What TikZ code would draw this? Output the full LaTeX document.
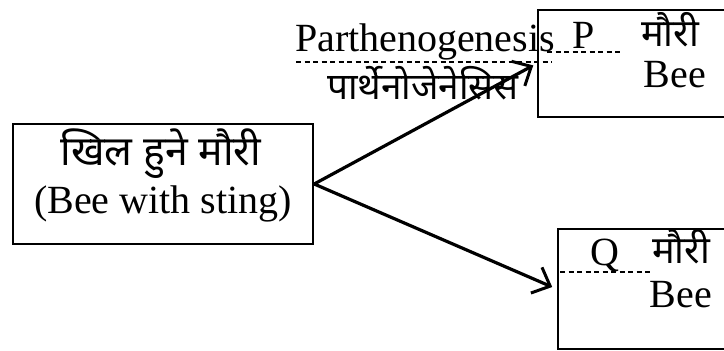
\documentclass[tikz,border=0pt]{standalone}
\usepackage{fontspec}
\setmainfont{Liberation Serif}
\newfontfamily\devfont[Script=Devanagari]{Noto Sans}
\usetikzlibrary{arrows.meta, positioning}

\begin{document}
\begin{tikzpicture}[x=1pt, y=-1pt,
  box/.style={draw, line width=2.4pt, inner sep=0pt},
  link/.style={-{Straight Barb[length=15pt, width=28pt, line width=3pt]}, line width=3.2pt},
  guide/.style={line width=1.6pt, dash pattern=on 5pt off 3.5pt},
  lat/.style={font=\fontsize{40}{44}\selectfont, inner sep=0pt},
  dev/.style={font=\devfont\fontsize{38}{42}\selectfont, inner sep=0pt}]
  \useasboundingbox (0,0) rectangle (724,351);
  % bee with sting
  \node[box, minimum width=300pt, minimum height=120pt] (stinger) at (163,184) {};
  \node[dev, font=\devfont\fontsize{41}{44}\selectfont] (khil) at (161,154) {खिल हुने मौरी};
  \node[lat, anchor=base] (stingtxt) at (163,213) {(Bee with sting)};
  % the two offspring
  \node[box, minimum width=200pt, minimum height=107pt] (pbox) at (638,63.5) {};
  \node[box, minimum width=200pt, minimum height=120pt] (qbox) at (658,289) {};
  \node[lat, anchor=base] (pletter) at (584,48) {P};
  \node[dev] (pmauri) at (670,30) {मौरी};
  \node[lat, anchor=base] (pbee) at (675,87) {Bee};
  \node[lat, anchor=base] (qletter) at (605,265) {Q};
  \node[dev] (qmauri) at (681,247) {मौरी};
  \node[lat, anchor=base] (qbee) at (681,307) {Bee};
  % label on the upper arrow
  \node[lat, anchor=base] (parth) at (425,51) {Parthenogenesis};
  \node[dev, font=\devfont\fontsize{37}{40}\selectfont] (parthdev) at (423,83) {पार्थेनोजेनेसिस};
  \draw[guide] (296,62) -- (552,62);
  \draw[guide] (547,52) -- (623,52);
  \draw[guide] (560,272) -- (650,272);
  % arrows
  \draw[link, shorten >=4pt] (stinger.east) -- (pbox.west);
  \draw[link, shorten >=5pt] (stinger.east) -- (qbox.west);
\end{tikzpicture}
\end{document}
